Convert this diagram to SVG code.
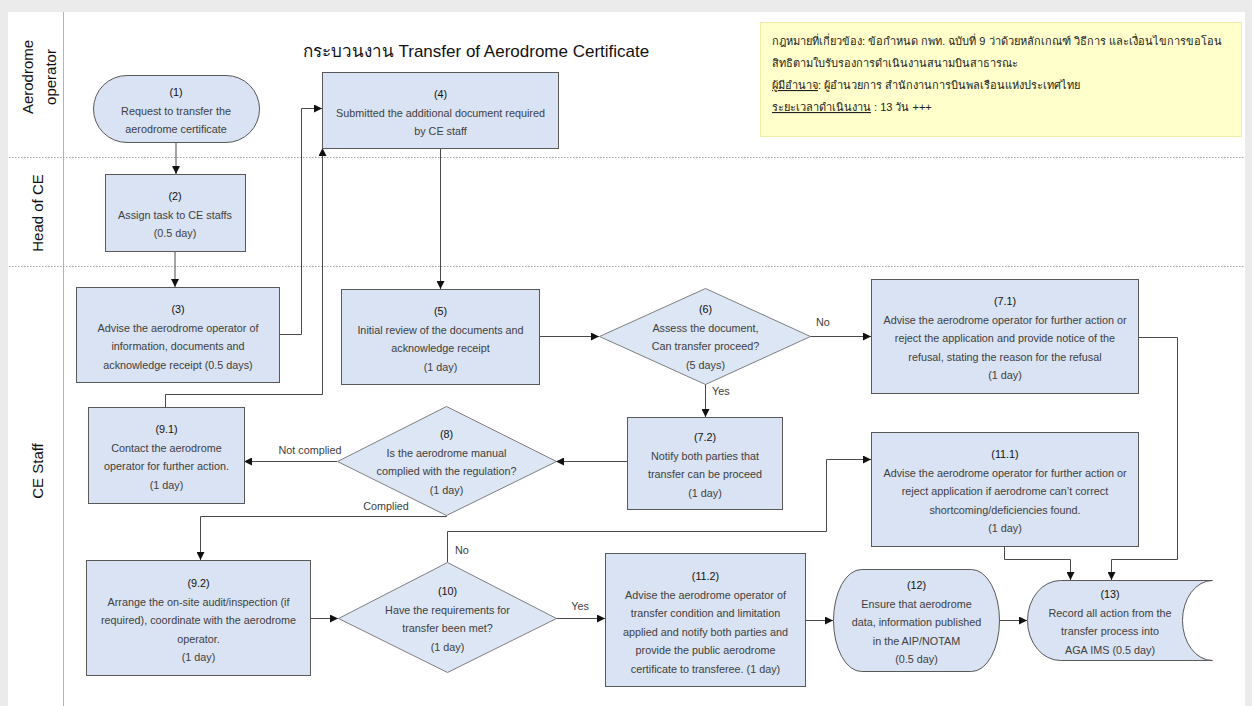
<svg xmlns="http://www.w3.org/2000/svg" width="1252" height="706" viewBox="0 0 1252 706">
  <style>
    .lane { font-family: "Liberation Sans", "Noto Sans", sans-serif; font-size: 15px; fill: #111; text-anchor: middle; dominant-baseline: central; }
    .sep { stroke: #a6a6a6; stroke-width: 1; stroke-dasharray: 1.5 1.5; }
    .box { fill: #dae3f3; stroke: #595959; stroke-width: 1; }
    .dec { fill: #dce6f4; stroke: #7f7f7f; stroke-width: 1; }
    .t { font-family: "Liberation Sans", "Noto Sans", sans-serif; font-size: 10.8px; fill: #404040; text-anchor: middle; dominant-baseline: central; }
    .n { fill: #111; }
    .lbl { font-family: "Liberation Sans", "Noto Sans", sans-serif; font-size: 10.8px; fill: #404040; dominant-baseline: central; }
    .edge { fill: none; stroke: #4a4a4a; stroke-width: 1; }
    .note { font-family: "Liberation Sans", "Noto Sans", sans-serif; font-size: 11px; fill: #222; }
  </style>
  <defs>
    <marker id="arrow" viewBox="0 0 10 10" refX="10" refY="5" markerWidth="8" markerHeight="8" markerUnits="userSpaceOnUse" orient="auto">
      <path d="M0,0 L10,5 L0,10 Z" fill="#111"/>
    </marker>
  </defs>

  <!-- page -->
  <rect x="0" y="0" width="1252" height="706" fill="#ebebeb"/>
  <rect x="8" y="12" width="1237" height="694" fill="#ffffff"/>

  <!-- swimlanes -->
  <g id="lanes">
    <line x1="63.5" y1="12" x2="63.5" y2="706" stroke="#9fb5dd" stroke-width="1"/>
    <line class="sep" x1="9" y1="157.5" x2="1245" y2="157.5"/>
    <line class="sep" x1="9" y1="266.5" x2="1245" y2="266.5"/>
    <text class="lane" transform="translate(27,77) rotate(-90)">Aerodrome</text>
    <text class="lane" transform="translate(50,77) rotate(-90)">operator</text>
    <text class="lane" transform="translate(37,213) rotate(-90)">Head of CE</text>
    <text class="lane" transform="translate(37,471) rotate(-90)">CE Staff</text>
  </g>

  <!-- title -->
  <text x="476" y="57" font-family="Liberation Sans, Noto Sans, sans-serif" font-size="17" fill="#111" text-anchor="middle">กระบวนงาน Transfer of Aerodrome Certificate</text>

  <!-- legal note -->
  <g id="note">
    <rect x="760.5" y="22.5" width="481" height="114" fill="#ffffcc" stroke="#eeeeaa" stroke-width="1"/>
    <text class="note" x="772" y="45">กฎหมายที่เกี่ยวข้อง: ข้อกำหนด กพท. ฉบับที่ 9 ว่าด้วยหลักเกณฑ์ วิธีการ และเงื่อนไขการขอโอน</text>
    <text class="note" x="772" y="67">สิทธิตามใบรับรองการดำเนินงานสนามบินสาธารณะ</text>
    <text class="note" x="772" y="89"><tspan text-decoration="underline">ผู้มีอำนาจ</tspan>: ผู้อำนวยการ สำนักงานการบินพลเรือนแห่งประเทศไทย</text>
    <text class="note" x="772" y="111"><tspan text-decoration="underline">ระยะเวลาดำเนินงาน</tspan> : 13 วัน +++</text>
  </g>

  <!-- connectors -->
  <g id="connectors" class="edge">
    <path d="M176,142 V174" marker-end="url(#arrow)"/>
    <path d="M175,251 V287" marker-end="url(#arrow)"/>
    <path d="M279,334.5 H301.5 V108.5 H322" marker-end="url(#arrow)"/>
    <path d="M165.5,407 V394.5 H322.5 V148" marker-end="url(#arrow)"/>
    <path d="M440.5,148 V289" marker-end="url(#arrow)"/>
    <path d="M539,336.5 H599" marker-end="url(#arrow)"/>
    <path d="M810,336.5 H871" marker-end="url(#arrow)"/>
    <path d="M705.5,384 V417" marker-end="url(#arrow)"/>
    <path d="M627,461.5 H556" marker-end="url(#arrow)"/>
    <path d="M337,461.5 H244" marker-end="url(#arrow)"/>
    <path d="M446.5,515 V516.5 H200.5 V560" marker-end="url(#arrow)"/>
    <path d="M310,618.5 H338" marker-end="url(#arrow)"/>
    <path d="M556,618.5 H605" marker-end="url(#arrow)"/>
    <path d="M447.5,562 V531.5 H826.5 V459.5 H871" marker-end="url(#arrow)"/>
    <path d="M805,620.5 H833" marker-end="url(#arrow)"/>
    <path d="M999,620.5 H1027" marker-end="url(#arrow)"/>
    <path d="M1004.5,546 V559.5 H1070.5 V580" marker-end="url(#arrow)"/>
    <path d="M1138,337.5 H1177.5 V559.5 H1111.5 V580" marker-end="url(#arrow)"/>
  </g>

  <!-- connector labels -->
  <g id="edge-labels">
    <text class="lbl" x="816" y="322">No</text>
    <text class="lbl" x="712" y="391">Yes</text>
    <text class="lbl" x="310" y="450" text-anchor="middle">Not complied</text>
    <text class="lbl" x="386" y="506" text-anchor="middle">Complied</text>
    <text class="lbl" x="455" y="550">No</text>
    <text class="lbl" x="580" y="606" text-anchor="middle">Yes</text>
  </g>

  <!-- steps -->
  <g id="n1">
    <rect class="box" x="93.5" y="75.5" width="166" height="67" rx="33.5" ry="33.5"/>
    <text class="t n" x="176" y="92">(1)</text>
    <text class="t" x="176" y="110.5">Request to transfer the</text>
    <text class="t" x="176" y="129">aerodrome certificate</text>
  </g>

  <g id="n2">
    <rect class="box" x="105.5" y="174.5" width="140" height="77"/>
    <text class="t n" x="175" y="196">(2)</text>
    <text class="t" x="175" y="214.5">Assign task to CE staffs</text>
    <text class="t" x="175" y="233">(0.5 day)</text>
  </g>

  <g id="n3">
    <rect class="box" x="76.5" y="287.5" width="203" height="95"/>
    <text class="t n" x="178" y="309">(3)</text>
    <text class="t" x="178" y="327.5">Advise the aerodrome operator of</text>
    <text class="t" x="178" y="346">information, documents and</text>
    <text class="t" x="178" y="364.5">acknowledge receipt (0.5 days)</text>
  </g>

  <g id="n4">
    <rect class="box" x="322.5" y="72.5" width="236" height="76"/>
    <text class="t n" x="440.5" y="94">(4)</text>
    <text class="t" x="440.5" y="112.5">Submitted the additional document required</text>
    <text class="t" x="440.5" y="131">by CE staff</text>
  </g>

  <g id="n5">
    <rect class="box" x="341.5" y="289.5" width="198" height="95"/>
    <text class="t n" x="440.5" y="311">(5)</text>
    <text class="t" x="440.5" y="329.5">Initial review of the documents and</text>
    <text class="t" x="440.5" y="348">acknowledge receipt</text>
    <text class="t" x="440.5" y="366.5">(1 day)</text>
  </g>

  <g id="n6">
    <polygon class="dec" points="705.5,288.5 810.5,336.5 705.5,384.5 599.5,336.5"/>
    <text class="t n" x="705.5" y="309">(6)</text>
    <text class="t" x="705.5" y="327.5">Assess the document,</text>
    <text class="t" x="705.5" y="346">Can transfer proceed?</text>
    <text class="t" x="705.5" y="364.5">(5 days)</text>
  </g>

  <g id="n7-1">
    <rect class="box" x="871.5" y="279.5" width="267" height="114"/>
    <text class="t n" x="1005" y="301">(7.1)</text>
    <text class="t" x="1005" y="319.5">Advise the aerodrome operator for further action or</text>
    <text class="t" x="1005" y="338">reject the application and provide notice of the</text>
    <text class="t" x="1005" y="356.5">refusal, stating the reason for the refusal</text>
    <text class="t" x="1005" y="375">(1 day)</text>
  </g>

  <g id="n7-2">
    <rect class="box" x="627.5" y="417.5" width="155" height="92"/>
    <text class="t n" x="705" y="437">(7.2)</text>
    <text class="t" x="705" y="455.5">Notify both parties that</text>
    <text class="t" x="705" y="474">transfer can be proceed</text>
    <text class="t" x="705" y="492.5">(1 day)</text>
  </g>

  <g id="n8">
    <polygon class="dec" points="446.5,406.5 556.5,461.5 446.5,515.5 337.5,461.5"/>
    <text class="t n" x="446.5" y="434">(8)</text>
    <text class="t" x="446.5" y="452.5">Is the aerodrome manual</text>
    <text class="t" x="446.5" y="471">complied with the regulation?</text>
    <text class="t" x="446.5" y="489.5">(1 day)</text>
  </g>

  <g id="n9-1">
    <rect class="box" x="88.5" y="407.5" width="156" height="96"/>
    <text class="t n" x="166.5" y="429">(9.1)</text>
    <text class="t" x="166.5" y="447.5">Contact the aerodrome</text>
    <text class="t" x="166.5" y="466">operator for further action.</text>
    <text class="t" x="166.5" y="484.5">(1 day)</text>
  </g>

  <g id="n9-2">
    <rect class="box" x="86.5" y="560.5" width="224" height="115"/>
    <text class="t n" x="198.5" y="583">(9.2)</text>
    <text class="t" x="198.5" y="601.5">Arrange the on-site audit/inspection (if</text>
    <text class="t" x="198.5" y="620">required), coordinate with the aerodrome</text>
    <text class="t" x="198.5" y="638.5">operator.</text>
    <text class="t" x="198.5" y="657">(1 day)</text>
  </g>

  <g id="n10">
    <polygon class="dec" points="447.5,562.5 556.5,618.5 447.5,672.5 338.5,618.5"/>
    <text class="t n" x="447.5" y="591">(10)</text>
    <text class="t" x="447.5" y="609.5">Have the requirements for</text>
    <text class="t" x="447.5" y="628">transfer been met?</text>
    <text class="t" x="447.5" y="646.5">(1 day)</text>
  </g>

  <g id="n11-1">
    <rect class="box" x="871.5" y="432.5" width="267" height="114"/>
    <text class="t n" x="1005" y="454">(11.1)</text>
    <text class="t" x="1005" y="472.5">Advise the aerodrome operator for further action or</text>
    <text class="t" x="1005" y="491">reject application if aerodrome can’t correct</text>
    <text class="t" x="1005" y="509.5">shortcoming/deficiencies found.</text>
    <text class="t" x="1005" y="528">(1 day)</text>
  </g>

  <g id="n11-2">
    <rect class="box" x="605.5" y="553.5" width="200" height="133"/>
    <text class="t n" x="705.5" y="576">(11.2)</text>
    <text class="t" x="705.5" y="594.5">Advise the aerodrome operator of</text>
    <text class="t" x="705.5" y="613">transfer condition and limitation</text>
    <text class="t" x="705.5" y="631.5">applied and notify both parties and</text>
    <text class="t" x="705.5" y="650">provide the public aerodrome</text>
    <text class="t" x="705.5" y="668.5">certificate to transferee. (1 day)</text>
  </g>

  <g id="n12">
    <rect class="box" x="833.5" y="569.5" width="166" height="102" rx="28" ry="51"/>
    <text class="t n" x="916.5" y="585">(12)</text>
    <text class="t" x="916.5" y="603.5">Ensure that aerodrome</text>
    <text class="t" x="916.5" y="622">data, information published</text>
    <text class="t" x="916.5" y="640.5">in the AIP/NOTAM</text>
    <text class="t" x="916.5" y="659">(0.5 day)</text>
  </g>

  <g id="n13">
    <path class="box" d="M1060.5,580.5 H1212.5 A30,40 0 0 0 1212.5,660.5 H1060.5 A33,40 0 0 1 1060.5,580.5 Z"/>
    <text class="t n" x="1110" y="594">(13)</text>
    <text class="t" x="1110" y="612.5">Record all action from the</text>
    <text class="t" x="1110" y="631">transfer process into</text>
    <text class="t" x="1110" y="649.5">AGA IMS (0.5 day)</text>
  </g>
</svg>
